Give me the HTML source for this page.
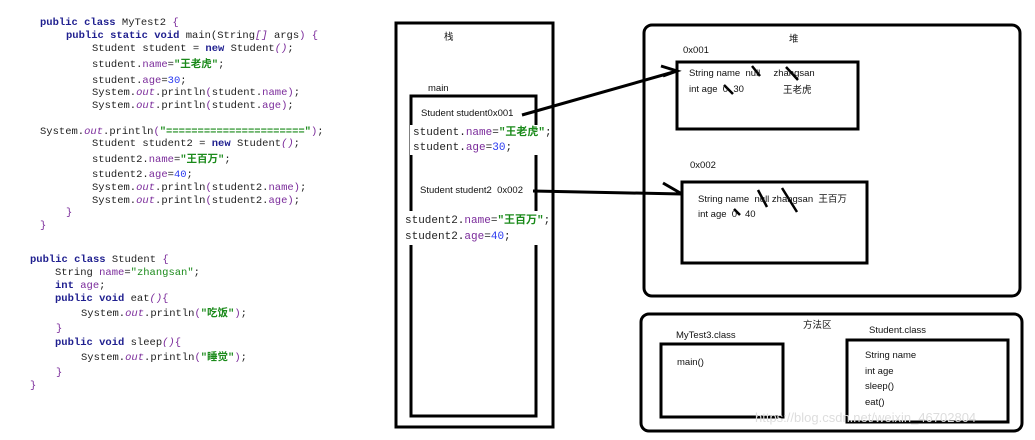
<!DOCTYPE html>
<html><head><meta charset="utf-8"><style>
body{margin:0;width:1035px;height:440px;background:#fff;position:relative;overflow:hidden}
.c{position:absolute;font-family:"Liberation Mono","Noto Sans CJK SC",monospace;font-size:10.5px;color:#222;white-space:pre;line-height:12px}
.k{color:#1f1f8f;font-weight:bold}.f{color:#7a2a9a}.s{color:#1a8a1a;font-weight:bold}.n{color:#2a3af0}.i{color:#7a2a9a;font-style:italic}
.t{position:absolute;font-family:"Liberation Sans","Noto Sans CJK SC",sans-serif;font-size:9.5px;color:#111;white-space:pre;line-height:11px}
.w{background:#fff}
</style></head><body>
<svg width="1035" height="440" style="position:absolute;left:0;top:0">
<g fill="none" stroke="#000" stroke-width="3">
<rect x="396" y="23" width="157" height="404"/>
<rect x="411" y="96" width="125" height="320"/>
<rect x="644" y="25" width="376" height="271" rx="8"/>
<rect x="677" y="62" width="181" height="67"/>
<rect x="682" y="182" width="185" height="81"/>
<rect x="641" y="314" width="381" height="117" rx="8"/>
<rect x="661" y="344" width="122" height="73"/>
<rect x="847" y="340" width="161" height="82"/>
<path d="M522 115 L677 71 M661 66 L677 71 L663 76"/>
<path d="M533 191 L682 194 M663 183 L682 194"/>
<path d="M752 66 L760 76 M786 67 L798 80 M724 85 L733 94 M758 190 L767 207 M782 188 L797 212 M734 209 L740 215" stroke-width="2.5"/>
</g>
<rect x="410" y="125" width="140" height="30" fill="#fff"/>
<rect x="403" y="211" width="140" height="34" fill="#fff"/>
</svg>
<div class="c" style="left:40px;top:17px"><span class="k">public class</span> MyTest2 <span class="f">{</span></div>
<div class="c" style="left:66px;top:30px"><span class="k">public static void</span> main(String<span class="i">[]</span> args<span class="f">)</span> <span class="f">{</span></div>
<div class="c" style="left:92px;top:43px">Student student = <span class="k">new</span> Student<span class="i">()</span>;</div>
<div class="c" style="left:92px;top:59px">student.<span class="f">name</span>=<span class="s">"王老虎"</span>;</div>
<div class="c" style="left:92px;top:75px">student.<span class="f">age</span>=<span class="n">30</span>;</div>
<div class="c" style="left:92px;top:87px">System.<span class="i">out</span>.println<span class="f">(</span>student.<span class="f">name)</span>;</div>
<div class="c" style="left:92px;top:100px">System.<span class="i">out</span>.println<span class="f">(</span>student.<span class="f">age)</span>;</div>
<div class="c" style="left:40px;top:126px">System.<span class="i">out</span>.println<span class="f">(</span><span class="s">"======================"</span><span class="f">)</span>;</div>
<div class="c" style="left:92px;top:138px">Student student2 = <span class="k">new</span> Student<span class="i">()</span>;</div>
<div class="c" style="left:92px;top:154px">student2.<span class="f">name</span>=<span class="s">"王百万"</span>;</div>
<div class="c" style="left:92px;top:169px">student2.<span class="f">age</span>=<span class="n">40</span>;</div>
<div class="c" style="left:92px;top:182px">System.<span class="i">out</span>.println<span class="f">(</span>student2.<span class="f">name)</span>;</div>
<div class="c" style="left:92px;top:195px">System.<span class="i">out</span>.println<span class="f">(</span>student2.<span class="f">age)</span>;</div>
<div class="c f" style="left:66px;top:207px">}</div>
<div class="c f" style="left:40px;top:220px">}</div>
<div class="c" style="left:30px;top:254px"><span class="k">public class</span> Student <span class="f">{</span></div>
<div class="c" style="left:55px;top:267px">String <span class="f">name</span>=<span class="s" style="font-weight:normal">"zhangsan"</span>;</div>
<div class="c" style="left:55px;top:280px"><span class="k">int</span> <span class="f">age</span>;</div>
<div class="c" style="left:55px;top:293px"><span class="k">public void</span> eat<span class="i">()</span><span class="f">{</span></div>
<div class="c" style="left:81px;top:308px">System.<span class="i">out</span>.println<span class="f">(</span><span class="s">"吃饭"</span><span class="f">)</span>;</div>
<div class="c f" style="left:56px;top:323px">}</div>
<div class="c" style="left:55px;top:337px"><span class="k">public void</span> sleep<span class="i">()</span><span class="f">{</span></div>
<div class="c" style="left:81px;top:352px">System.<span class="i">out</span>.println<span class="f">(</span><span class="s">"睡觉"</span><span class="f">)</span>;</div>
<div class="c f" style="left:56px;top:367px">}</div>
<div class="c f" style="left:30px;top:380px">}</div>
<div class="t" style="left:444px;top:32px">栈</div>
<div class="t" style="left:428px;top:83px">main</div>
<div class="t" style="left:421px;top:108px">Student student0x001</div>
<div class="c" style="left:413px;top:127px;font-size:11px">student.<span class="f">name</span>=<span class="s">"王老虎"</span>;</div>
<div class="c" style="left:413px;top:142px;font-size:11px">student.<span class="f">age</span>=<span class="n">30</span>;</div>
<div class="t" style="left:420px;top:185px">Student student2 &nbsp;0x002</div>
<div class="c" style="left:405px;top:215px;font-size:11px">student2.<span class="f">name</span>=<span class="s">"王百万"</span>;</div>
<div class="c" style="left:405px;top:231px;font-size:11px">student2.<span class="f">age</span>=<span class="n">40</span>;</div>
<div class="t" style="left:789px;top:34px">堆</div>
<div class="t" style="left:683px;top:45px">0x001</div>
<div class="t" style="left:689px;top:68px">String name &nbsp;null &nbsp;&nbsp;&nbsp;&nbsp;zhangsan</div>
<div class="t" style="left:689px;top:84px">int age &nbsp;0 &nbsp;30</div>
<div class="t" style="left:783px;top:85px">王老虎</div>
<div class="t" style="left:690px;top:160px">0x002</div>
<div class="t" style="left:698px;top:194px">String name &nbsp;null zhangsan &nbsp;王百万</div>
<div class="t" style="left:698px;top:209px">int age &nbsp;0 &nbsp;&nbsp;40</div>
<div class="t" style="left:803px;top:320px">方法区</div>
<div class="t" style="left:676px;top:330px">MyTest3.class</div>
<div class="t" style="left:869px;top:325px">Student.class</div>
<div class="t" style="left:677px;top:357px">main()</div>
<div class="t" style="left:865px;top:350px">String name</div>
<div class="t" style="left:865px;top:366px">int age</div>
<div class="t" style="left:865px;top:381px">sleep()</div>
<div class="t" style="left:865px;top:397px">eat()</div>
<div class="t" style="left:755px;top:412px;font-size:13px;color:#ddd">https://blog.csdn.net/weixin_46702804</div>
</body></html>
